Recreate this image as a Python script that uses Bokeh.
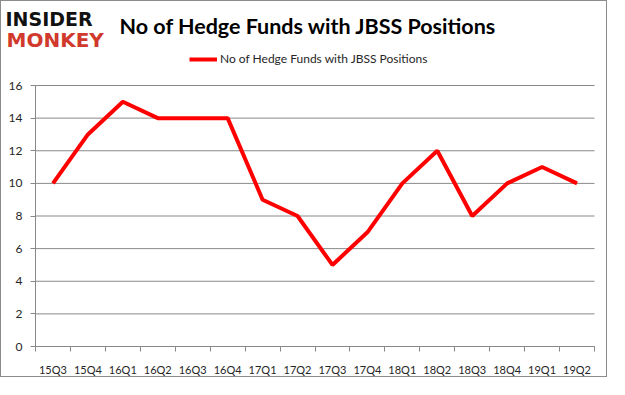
from bokeh.plotting import figure
from bokeh.models import (ColumnDataSource, FixedTicker, Label, Legend, LegendItem,
                          LinearAxis, Range1d)
from bokeh.embed import file_html
from bokeh.resources import INLINE

quarters = ["15Q3", "15Q4", "16Q1", "16Q2", "16Q3", "16Q4", "17Q1", "17Q2",
            "17Q3", "17Q4", "18Q1", "18Q2", "18Q3", "18Q4", "19Q1", "19Q2"]
funds = [10, 13, 15, 14, 14, 14, 9, 8, 5, 7, 10, 12, 8, 10, 11, 10]
y_ticks = [0, 2, 4, 6, 8, 10, 12, 14, 16]

series_name = "No of Hedge Funds with JBSS Positions"
title_text = "No of Hedge Funds with JBSS Positions"

# canvas and plot-area geometry (pixels)
W, H = 607, 377
PL, PR, PT, PB = 34, 593, 84, 345
n = len(quarters)
y_max = y_ticks[-1]
x_per = (PR - PL) / n
y_per = (PB - PT) / y_max
x_range = Range1d(-PL / x_per, n + (W - PR) / x_per)
y_range = Range1d(-(H - PB) / y_per, y_max + PT / y_per)

grid_col = "#898989"
axis_font = "Lato"
label_col = "#262626"

p = figure(width=W, height=H, output_backend="svg", toolbar_location=None,
           x_range=x_range, y_range=y_range, x_axis_type=None, y_axis_type=None,
           min_border=0)
p.outline_line_color = None
p.styles = {"border": "1px solid #8c8c8c"}

pos = [i + 0.5 for i in range(n)]
src = ColumnDataSource(data=dict(x=pos, y=funds, q=quarters))

# horizontal gridlines across the plot area
p.segment(x0=[0] * len(y_ticks), y0=y_ticks, x1=[n] * len(y_ticks), y1=y_ticks,
          line_color=grid_col, line_width=1)

# y axis fixed at x = 0
yax = LinearAxis(fixed_location=0, bounds=(0, y_max), ticker=FixedTicker(ticks=y_ticks),
                 axis_line_color=grid_col, major_tick_line_color=grid_col,
                 major_tick_out=5, major_tick_in=0, minor_tick_line_color=None,
                 major_label_text_font=axis_font, major_label_text_font_size="12px",
                 major_label_text_color=label_col, major_label_standoff=8)
p.add_layout(yax, "left")

# x axis fixed at y = 0, ticks between categories
xax = LinearAxis(fixed_location=0, bounds=(0, n),
                 ticker=FixedTicker(ticks=pos, minor_ticks=list(range(n + 1))),
                 major_label_overrides={pp: q for pp, q in zip(pos, quarters)},
                 major_tick_line_color=None, minor_tick_line_color=grid_col,
                 minor_tick_out=5, minor_tick_in=0, axis_line_color=grid_col,
                 major_label_text_font=axis_font, major_label_text_font_size="11px",
                 major_label_text_color=label_col, major_label_standoff=10)
p.add_layout(xax, "below")

r = p.line("x", "y", source=src, line_color="#ff0000", line_width=4)

legend = Legend(items=[LegendItem(label=series_name, renderers=[r])],
                location=(188, H - 65), orientation="horizontal",
                label_text_font=axis_font, label_text_font_size="12px",
                label_text_color=label_col, glyph_width=28, glyph_height=12,
                label_standoff=3, padding=0, margin=0, spacing=0,
                border_line_color=None, background_fill_alpha=0)
p.add_layout(legend, "center")

p.add_layout(Label(x=118, y=H - 24, x_units="screen", y_units="screen", text=title_text,
                   text_font="Lato", text_font_style="bold", text_font_size="21.5px",
                   text_color="#000000", text_baseline="middle"))
p.add_layout(Label(x=4, y=H - 17, x_units="screen", y_units="screen", text="INSIDER",
                   text_font="DejaVu Sans", text_font_style="bold", text_font_size="19px",
                   text_color="#111111", text_baseline="middle"))
p.add_layout(Label(x=5, y=H - 38, x_units="screen", y_units="screen", text="MONKEY",
                   text_font="DejaVu Sans", text_font_style="bold", text_font_size="20px",
                   text_color="#d0392b", text_baseline="middle"))

open("out.html", "w").write(file_html(p, INLINE))
